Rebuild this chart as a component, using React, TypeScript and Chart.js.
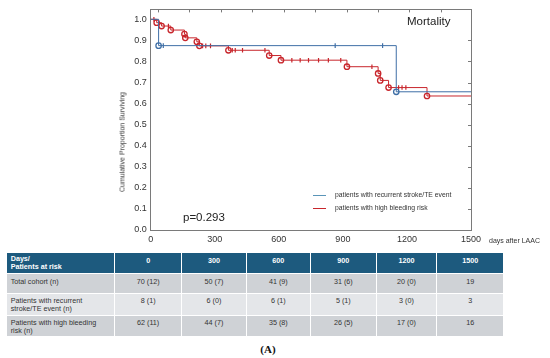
import React, { useEffect, useRef } from 'react';
import { Chart, registerables } from 'chart.js';
Chart.register(...registerables);

// ---- data ----
const X_TICKS = [0, 300, 600, 900, 1200, 1500];
const Y_TICKS = [0, 0.1, 0.2, 0.3, 0.4, 0.5, 0.6, 0.7, 0.8, 0.9, 1.0];
const TOP_TICKS = [33, 180, 328, 475, 623, 770, 920, 1065, 1211, 1359];
const RIGHT_TICKS = [0.1, 0.2, 0.3, 0.4, 0.5, 0.6, 0.7, 0.8, 0.9];
const END_DAY = 1500;

const RED_EVENT_DAYS = [28, 51, 94, 158, 162, 216, 228, 364, 555, 610, 919, 1065, 1075, 1114, 1294];
const RED_EVENT_SURV = [0.984, 0.968, 0.949, 0.93, 0.912, 0.893, 0.874, 0.853, 0.828, 0.806, 0.775, 0.743, 0.71, 0.676, 0.636];
const RED_CENSOR_DAYS = [15, 83, 243, 258, 280, 382, 396, 430, 535, 661, 700, 739, 786, 832, 890, 1036, 1161, 1177, 1195];

const BLUE_EVENT_DAYS = [37, 1150];
const BLUE_EVENT_SURV = [0.875, 0.656];
const BLUE_CENSOR_DAYS = [59, 864, 1086];

const TABLE_HEAD = ['0', '300', '600', '900', '1200', '1500'];
const ROW_LABELS = ['Total cohort (n)', 'Patients with recurrent\nstroke/TE event (n)', 'Patients with high bleeding\nrisk (n)'];
const ROW_TOTAL = ['70 (12)', '50 (7)', '41 (9)', '31 (6)', '20 (0)', '19'];
const ROW_STROKE = ['8 (1)', '6 (0)', '6 (1)', '5 (1)', '3 (0)', '3'];
const ROW_BLEED = ['62 (11)', '44 (7)', '35 (8)', '26 (5)', '17 (0)', '16'];

const RED = '#c8262c';
const BLUE = '#3f6fa6';
const BLUE_LEG = '#5a95b8';
const AXIS = '#7a7a7a';
const FONT = '"Liberation Sans", Arial, sans-serif';

function survAt(days: number[], surv: number[], d: number) {
  let s = 1;
  for (let i = 0; i < days.length; i++) if (days[i] <= d) s = surv[i];
  return s;
}
function curve(days: number[], surv: number[]) {
  const pts = [{ x: 0, y: 1 }];
  days.forEach((d, i) => pts.push({ x: d, y: surv[i] }));
  pts.push({ x: END_DAY, y: surv[surv.length - 1] });
  return pts;
}

const innerTicks = {
  id: 'innerTicks',
  afterDraw(chart: any) {
    const { ctx, chartArea } = chart;
    const x = chart.scales.x;
    const y = chart.scales.y;
    ctx.save();
    ctx.strokeStyle = AXIS;
    ctx.lineWidth = 1;
    ctx.beginPath();
    TOP_TICKS.forEach((v) => {
      const px = Math.round(x.getPixelForValue(v)) + 0.5;
      ctx.moveTo(px, chartArea.top);
      ctx.lineTo(px, chartArea.top + 3);
    });
    RIGHT_TICKS.forEach((v) => {
      const py = Math.round(y.getPixelForValue(v)) + 0.5;
      ctx.moveTo(chartArea.right - 3, py);
      ctx.lineTo(chartArea.right, py);
    });
    ctx.stroke();
    ctx.restore();
  },
};

function KMChart() {
  const ref = useRef<HTMLCanvasElement>(null);
  useEffect(() => {
    const tickFont = { family: FONT, size: 9 };
    const chart = new Chart(ref.current!, {
      type: 'line',
      data: {
        datasets: [
          {
            data: curve(BLUE_EVENT_DAYS, BLUE_EVENT_SURV),
            borderColor: BLUE,
            borderWidth: 1,
            stepped: 'before',
            pointRadius: 0,
            fill: false,
          },
          {
            data: curve(RED_EVENT_DAYS, RED_EVENT_SURV),
            borderColor: RED,
            borderWidth: 1,
            stepped: 'before',
            pointRadius: 0,
            fill: false,
          },
          {
            data: BLUE_EVENT_DAYS.map((d, i) => ({ x: d, y: BLUE_EVENT_SURV[i] })),
            showLine: false,
            pointStyle: 'circle',
            pointRadius: 2.7,
            pointBorderWidth: 1.3,
            pointBorderColor: BLUE,
            pointBackgroundColor: 'rgba(255,255,255,0)',
          },
          {
            data: BLUE_CENSOR_DAYS.map((d) => ({ x: d, y: survAt(BLUE_EVENT_DAYS, BLUE_EVENT_SURV, d) })),
            showLine: false,
            pointStyle: 'line',
            rotation: 90,
            pointRadius: 2.3,
            pointBorderWidth: 1.2,
            pointBorderColor: BLUE,
          },
          {
            data: RED_EVENT_DAYS.map((d, i) => ({ x: d, y: RED_EVENT_SURV[i] })),
            showLine: false,
            pointStyle: 'circle',
            pointRadius: 2.7,
            pointBorderWidth: 1.3,
            pointBorderColor: RED,
            pointBackgroundColor: 'rgba(255,255,255,0)',
          },
          {
            data: RED_CENSOR_DAYS.map((d) => ({ x: d, y: survAt(RED_EVENT_DAYS, RED_EVENT_SURV, d) })),
            showLine: false,
            pointStyle: 'line',
            rotation: 90,
            pointRadius: 2.3,
            pointBorderWidth: 1.2,
            pointBorderColor: RED,
          },
        ] as any,
      },
      options: {
        animation: false,
        responsive: true,
        maintainAspectRatio: false,
        events: [],
        layout: { padding: { left: 100, right: 79, top: 5, bottom: 0 } },
        plugins: { legend: { display: false }, tooltip: { enabled: false } },
        scales: {
          x: {
            type: 'linear',
            position: 'bottom',
            min: 0,
            max: 1500,
            afterBuildTicks: (s: any) => { s.ticks = X_TICKS.map((v) => ({ value: v })); },
            afterFit: (s: any) => { s.height = 15; },
            ticks: { font: tickFont, color: '#333', padding: 4, maxRotation: 0, autoSkip: false, callback: (v: any) => String(v) },
            grid: { display: false, drawTicks: false },
            border: { color: AXIS, width: 1 },
          },
          x2: {
            type: 'linear',
            position: 'top',
            min: 0,
            max: 1500,
            ticks: { display: false },
            grid: { display: false, drawTicks: false },
            border: { color: AXIS, width: 1 },
            afterFit: (s: any) => { s.height = 0; },
          },
          y: {
            type: 'linear',
            position: 'left',
            min: 0,
            max: 1.047,
            afterBuildTicks: (s: any) => { s.ticks = Y_TICKS.map((v) => ({ value: v })); },
            afterFit: (s: any) => { s.width = 50.7; },
            ticks: { font: tickFont, color: '#333', padding: 4, callback: (v: any) => Number(v).toFixed(1) },
            grid: { display: false, drawTicks: false },
            border: { color: AXIS, width: 1 },
          },
          y2: {
            type: 'linear',
            position: 'right',
            min: 0,
            max: 1.047,
            ticks: { display: false },
            grid: { display: false, drawTicks: false },
            border: { color: AXIS, width: 1 },
            afterFit: (s: any) => { s.width = 0; },
          },
        },
      } as any,
      plugins: [innerTicks],
    });
    return () => chart.destroy();
  }, []);
  return <canvas ref={ref} />;
}

const abs = (left: number, top: number, extra: React.CSSProperties = {}): React.CSSProperties => ({
  position: 'absolute',
  left,
  top,
  whiteSpace: 'nowrap',
  fontFamily: FONT,
  lineHeight: 1,
  ...extra,
});

const COL_EDGES = [6.7, 115, 182.3, 246.7, 311, 376.7, 437.3, 504.3];
const ROW_EDGES = [253, 274, 293.7, 315.7, 337.3];

function RiskTable() {
  const rows = [ROW_TOTAL, ROW_STROKE, ROW_BLEED];
  const rowBg = ['#cfd2d6', '#e4e6e9', '#cfd2d6'];
  const cells: React.ReactNode[] = [];
  const cellStyle = (c: number, r: number, bg: string): React.CSSProperties => ({
    position: 'absolute',
    left: COL_EDGES[c],
    top: ROW_EDGES[r],
    width: COL_EDGES[c + 1] - COL_EDGES[c] - 1,
    height: ROW_EDGES[r + 1] - ROW_EDGES[r] - 1,
    background: bg,
    boxSizing: 'border-box',
    fontFamily: FONT,
    fontSize: 7.2,
    lineHeight: '8px',
    paddingTop: 3.5,
  });
  cells.push(
    <div key="h0" style={{ ...cellStyle(0, 0, '#1d5a7e'), color: '#fff', fontWeight: 'bold', paddingLeft: 4, paddingTop: 2 }}>
      Days/<br />Patients at risk
    </div>
  );
  TABLE_HEAD.forEach((h, i) => {
    cells.push(
      <div key={'h' + (i + 1)} style={{ ...cellStyle(i + 1, 0, '#1d5a7e'), color: '#fff', fontWeight: 'bold', textAlign: 'center', paddingTop: 3.5 }}>
        {h}
      </div>
    );
  });
  rows.forEach((row, r) => {
    const lbl = ROW_LABELS[r].split('\n');
    cells.push(
      <div key={'l' + r} style={{ ...cellStyle(0, r + 1, rowBg[r]), color: '#333', paddingLeft: 4, paddingTop: 3.5 }}>
        {lbl.map((t, k) => (
          <div key={k}>{t}</div>
        ))}
      </div>
    );
    row.forEach((v, c) => {
      cells.push(
        <div key={'c' + r + '_' + c} style={{ ...cellStyle(c + 1, r + 1, rowBg[r]), color: '#333', textAlign: 'center' }}>
          {v}
        </div>
      );
    });
  });
  return <>{cells}</>;
}

export default function App() {
  return (
    <div style={{ position: 'absolute', left: 0, top: 0, width: 550, height: 358, background: '#fff', overflow: 'hidden' }}>
      <div style={{ position: 'absolute', left: 0, top: 0, width: 550, height: 245 }}>
        <KMChart />
      </div>
      <div style={abs(407, 16, { fontSize: 11.5, color: '#222' })}>Mortality</div>
      <div style={abs(183, 212, { fontSize: 11.5, color: '#222' })}>p=0.293</div>
      <div style={abs(489, 236.5, { fontSize: 7, color: '#333' })}>days after LAAC</div>
      <div
        style={abs(121.7, 142, {
          fontSize: 7,
          color: '#333',
          transform: 'translate(-50%, -50%) rotate(-90deg)',
        })}
      >
        Cumulative Proportion Surviving
      </div>
      <div style={{ position: 'absolute', left: 313, top: 194.5, width: 13, height: 1.3, background: BLUE_LEG }} />
      <div style={{ position: 'absolute', left: 313, top: 208, width: 13, height: 1.3, background: RED }} />
      <div style={abs(335, 191.5, { fontSize: 6.8, color: '#333' })}>patients with recurrent stroke/TE event</div>
      <div style={abs(335, 205, { fontSize: 6.8, color: '#333' })}>patients with high bleeding risk</div>
      <RiskTable />
      <div style={abs(268, 343.5, { fontSize: 11, fontWeight: 'bold', fontFamily: '"Liberation Serif", "Times New Roman", serif', color: '#111', transform: 'translateX(-50%)' })}>
        (A)
      </div>
    </div>
  );
}
